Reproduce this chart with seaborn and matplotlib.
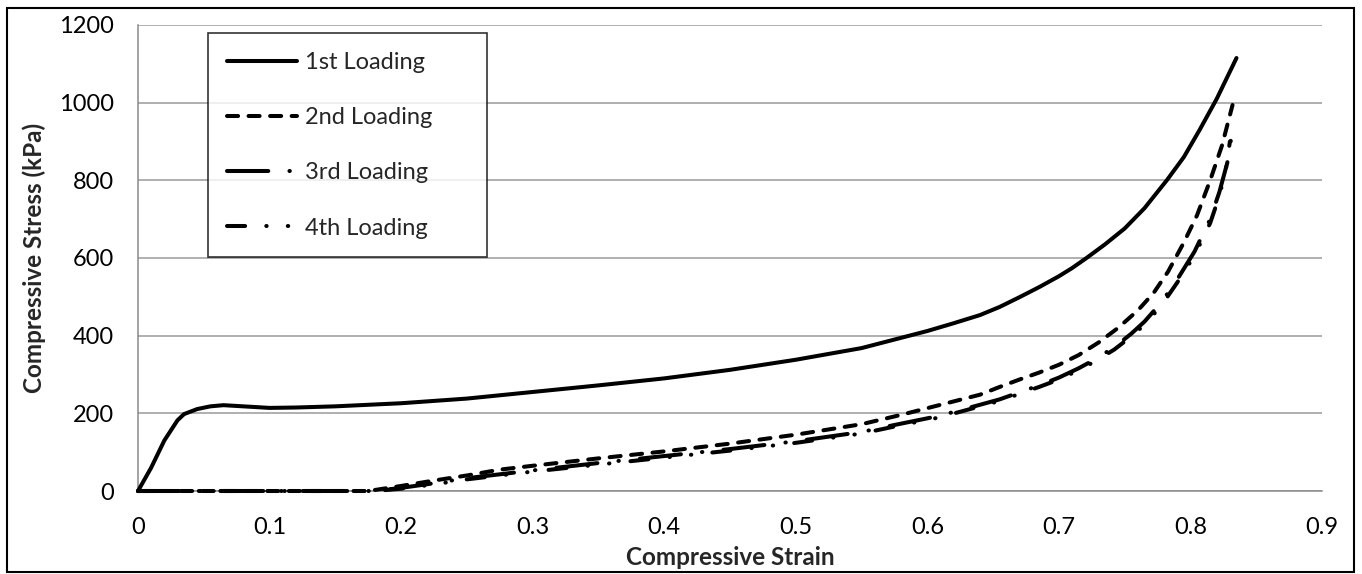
import matplotlib
matplotlib.use("Agg")
import matplotlib.pyplot as plt
import matplotlib.patches as mpatches
import seaborn as sns

# Values
strain_1 = [0, 0.01, 0.02, 0.03, 0.035, 0.045, 0.055, 0.065, 0.08, 0.1, 0.12, 0.15, 0.2,
            0.25, 0.3, 0.35, 0.4, 0.45, 0.5, 0.55, 0.6, 0.62, 0.64, 0.655, 0.67, 0.685,
            0.7, 0.71, 0.721, 0.735, 0.75, 0.765, 0.782, 0.795, 0.807, 0.82, 0.835]
stress_1 = [0, 60, 130, 182, 198, 211, 218, 221, 218, 214, 215, 218, 226,
            238, 255, 272, 290, 312, 338, 368, 412, 432, 453, 474, 499, 525,
            553, 574, 600, 635, 676, 728, 800, 860, 930, 1010, 1115]

strain_2 = [0, 0.05, 0.1, 0.15, 0.175, 0.2, 0.225, 0.25, 0.275, 0.3, 0.35, 0.4, 0.45,
            0.5, 0.55, 0.58, 0.61, 0.64, 0.655, 0.67, 0.685, 0.7, 0.715, 0.73, 0.745,
            0.76, 0.772, 0.783, 0.795, 0.805, 0.815, 0.824, 0.832]
stress_2 = [0, 0, 0, 0, 0, 13, 27, 40, 55, 65, 84, 102, 122,
            145, 172, 196, 222, 248, 268, 287, 305, 325, 350, 382, 420,
            465, 510, 565, 640, 710, 800, 890, 994]

strain_3 = [0, 0.05, 0.1, 0.15, 0.18, 0.2, 0.225, 0.25, 0.275, 0.3, 0.35, 0.4, 0.45,
            0.5, 0.55, 0.575, 0.607, 0.625, 0.655, 0.685, 0.7, 0.715, 0.727, 0.742,
            0.755, 0.765, 0.778, 0.79, 0.803, 0.815, 0.822, 0.828, 0.832]
stress_3 = [0, 0, 0, 0, 0, 8, 20, 33, 43, 53, 72, 90, 108,
            128, 152, 170, 192, 208, 236, 272, 292, 316, 338, 370,
            405, 436, 486, 545, 616, 700, 770, 845, 930]

strain_4 = [0, 0.05, 0.1, 0.15, 0.18, 0.2, 0.225, 0.25, 0.275, 0.3, 0.35, 0.4, 0.45,
            0.5, 0.55, 0.575, 0.607, 0.625, 0.655, 0.685, 0.7, 0.715, 0.727, 0.742,
            0.755, 0.765, 0.778, 0.79, 0.803, 0.815, 0.822, 0.827, 0.83]
stress_4 = [0, 0, 0, 0, 0, 6, 17, 30, 40, 50, 68, 86, 104,
            124, 148, 166, 188, 204, 232, 268, 287, 311, 333, 364,
            398, 428, 478, 537, 606, 690, 760, 830, 900]

series_labels = ["1st Loading", "2nd Loading", "3rd Loading", "4th Loading"]
x_ticks = [0, 0.1, 0.2, 0.3, 0.4, 0.5, 0.6, 0.7, 0.8, 0.9]
x_tick_labels = ["0", "0.1", "0.2", "0.3", "0.4", "0.5", "0.6", "0.7", "0.8", "0.9"]
y_ticks = [0, 200, 400, 600, 800, 1000, 1200]
y_tick_labels = ["0", "200", "400", "600", "800", "1000", "1200"]

sns.set_style("white")
plt.rcParams["font.family"] = ["Lato", "DejaVu Sans"]

fig = plt.figure(figsize=(13.62, 5.74), dpi=100)
ax = fig.add_axes([138 / 1362, 1 - 491 / 574, 1184 / 1362, 466 / 574])

styles = [
    "-",
    (0, (2.75, 2.6)),
    (0, (10.25, 5.25, 0.1, 5.25)),
    (0, (4.5, 5.25, 0.1, 5.25, 0.1, 5.25)),
]
data = [(strain_1, stress_1), (strain_2, stress_2), (strain_3, stress_3), (strain_4, stress_4)]

for (xs, ys), lab, ls in zip(data, series_labels, styles):
    sns.lineplot(x=xs, y=ys, ax=ax, color="black", linewidth=2.9, linestyle=ls,
                 sort=False, estimator=None, label=lab,
                 dash_capstyle="round", solid_capstyle="round",
                 solid_joinstyle="round", clip_on=False, zorder=3)

ax.set_xlim(0, 0.9)
ax.set_ylim(0, 1200)
ax.set_xticks(x_ticks)
ax.set_xticklabels(x_tick_labels)
ax.set_yticks(y_ticks)
ax.set_yticklabels(y_tick_labels)

ax.yaxis.grid(True, color="#9a9a9a", linewidth=1.1)
ax.xaxis.grid(False)
ax.set_axisbelow(True)
for side in ["top", "right"]:
    ax.spines[side].set_visible(False)
for side in ["left", "bottom"]:
    ax.spines[side].set_color("#8a8a8a")
    ax.spines[side].set_linewidth(1.1)

ax.tick_params(axis="both", which="major", direction="out", length=6.5, width=1.1,
               color="#8a8a8a", labelsize=17, labelcolor="black")
ax.tick_params(axis="y", pad=11)
ax.tick_params(axis="x", pad=12)

ax.set_xlabel("Compressive Strain", fontsize=17.5, fontweight="bold", labelpad=6)
ax.set_ylabel("Compressive Stress (kPa)", fontsize=17.5, fontweight="bold", labelpad=9)

# legend box spans x 208-487 px, y 33-258 px of the figure
leg = ax.legend(loc="upper left", mode="expand",
                bbox_to_anchor=(70 / 1184, 233 / 466, 279 / 1184, 225 / 466),
                borderaxespad=0, fontsize=17, frameon=True, fancybox=False,
                edgecolor="black", handlelength=2.95, handletextpad=0.35,
                labelspacing=1.45, borderpad=0.8)
leg.get_frame().set_linewidth(1.2)

# outer chart border
fig.patches.append(mpatches.Rectangle((7 / 1362, 2 / 574), 1347 / 1362, 564 / 574,
                                      transform=fig.transFigure, fill=False,
                                      edgecolor="black", linewidth=1.5))

fig.savefig("out.png", dpi=100)
